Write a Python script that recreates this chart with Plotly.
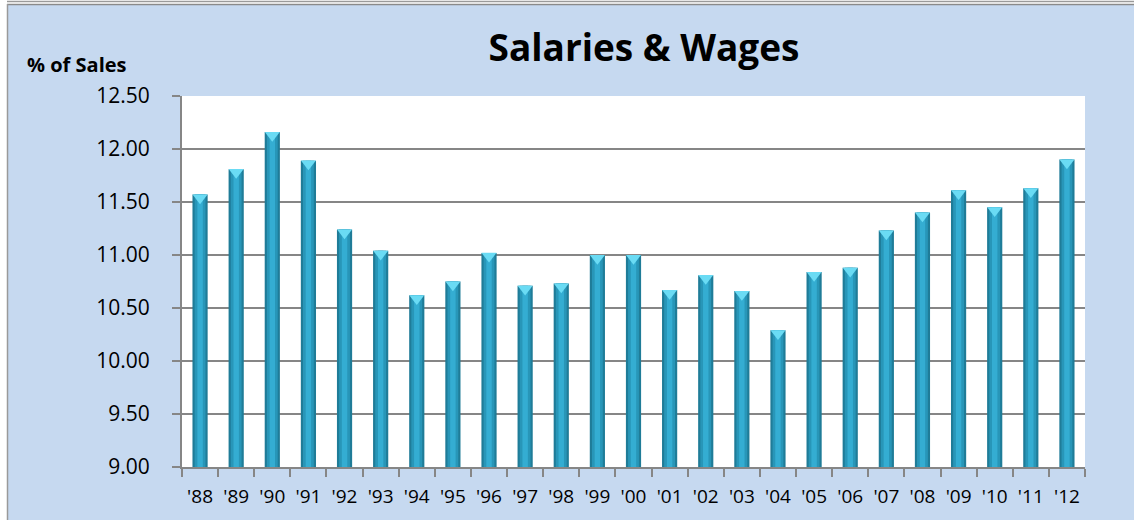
import plotly.graph_objects as go

# data
years = ["'88", "'89", "'90", "'91", "'92", "'93", "'94", "'95", "'96", "'97",
         "'98", "'99", "'00", "'01", "'02", "'03", "'04", "'05", "'06", "'07",
         "'08", "'09", "'10", "'11", "'12"]
pct_of_sales = [11.57, 11.81, 12.16, 11.89, 11.24, 11.04, 10.62, 10.75, 11.02, 10.71,
                10.73, 11.00, 11.00, 10.67, 10.81, 10.66, 10.29, 10.84, 10.88, 11.23,
                11.40, 11.61, 11.45, 11.63, 11.90]
y_ticks = [9.0, 9.5, 10.0, 10.5, 11.0, 11.5, 12.0, 12.5]

W, H = 1134, 520
L, R, T, B = 182, 49, 96, 53
PW, PH = W - L - R, H - T - B


def px_x(px):
    return (px - L) / PW


def px_y(py):
    return (H - B - py) / PH


fig = go.Figure()

# bars: three overlaid widths to fake the cylinder shading
for w, col in [(0.42, '#1F7C98'), (0.30, '#2896B8'), (0.15, '#34ADD2')]:
    fig.add_trace(go.Bar(
        x=years, y=pct_of_sales, width=w,
        marker=dict(color=col, line=dict(width=0)),
        hoverinfo='skip', showlegend=False
    ))

# light cap on top of each bar
fig.add_trace(go.Scatter(
    x=years, y=[v - 0.03 for v in pct_of_sales], mode='markers',
    marker=dict(symbol='triangle-down', size=13, color='#6ADBF4', line=dict(width=0)),
    hoverinfo='skip', showlegend=False
))

fig.update_layout(
    width=W, height=H,
    margin=dict(l=L, r=R, t=T, b=B),
    barmode='overlay',
    paper_bgcolor='#C6D9F0',
    plot_bgcolor='white',
    font=dict(family='Open Sans, sans-serif', color='black'),
    title=dict(
        text='<b>Salaries & Wages</b>',
        font=dict(size=37, family='Open Sans, sans-serif', color='black'),
        x=644 / W, xanchor='center',
        y=1 - 48 / H, yanchor='middle', xref='container', yref='container'
    ),
    xaxis=dict(
        type='category', range=[-0.5, len(years) - 0.5],
        showgrid=False, showline=True, linecolor='#868686', linewidth=2,
        ticks='outside', tickson='boundaries', ticklen=8, tickcolor='#868686', tickwidth=2,
        tickfont=dict(size=19), tickangle=0, ticklabelstandoff=11, fixedrange=True
    ),
    yaxis=dict(
        range=[9, 12.5], tickvals=y_ticks, tickformat='.2f',
        showgrid=True, gridcolor='#868686', gridwidth=1.5,
        showline=True, linecolor='#868686', linewidth=2,
        ticks='outside', ticklen=8, tickcolor='#868686', tickwidth=2,
        tickfont=dict(size=21), ticklabelstandoff=18, zeroline=False, fixedrange=True
    ),
    annotations=[dict(
        text='<b>% of Sales</b>', xref='paper', yref='paper',
        x=px_x(25), y=px_y(64), xanchor='left', yanchor='middle',
        showarrow=False, font=dict(size=20)
    )],
    shapes=[
        # white strip on the left and top outside the chart frame
        dict(type='rect', xref='paper', yref='paper', x0=px_x(-10), x1=px_x(7),
             y0=px_y(H + 10), y1=px_y(-10), fillcolor='white', line=dict(width=0)),
        dict(type='rect', xref='paper', yref='paper', x0=px_x(-10), x1=px_x(W + 10),
             y0=px_y(5), y1=px_y(-10), fillcolor='white', line=dict(width=0)),
        dict(type='line', xref='paper', yref='paper', x0=px_x(7), x1=px_x(W + 10),
             y0=px_y(1.5), y1=px_y(1.5), line=dict(color='#9A9A9A', width=1.5)),
        dict(type='line', xref='paper', yref='paper', x0=px_x(7), x1=px_x(W + 10),
             y0=px_y(4.5), y1=px_y(4.5), line=dict(color='#8A8A8A', width=1.5)),
        dict(type='line', xref='paper', yref='paper', x0=px_x(7.5), x1=px_x(7.5),
             y0=px_y(4), y1=px_y(H + 10), line=dict(color='#9A9A9A', width=1.5)),
    ]
)

# drop the default body margin so the figure sits at the page corner
fig.write_html("out.html", config={'displayModeBar': False},
               post_script="document.body.style.margin='0';")
